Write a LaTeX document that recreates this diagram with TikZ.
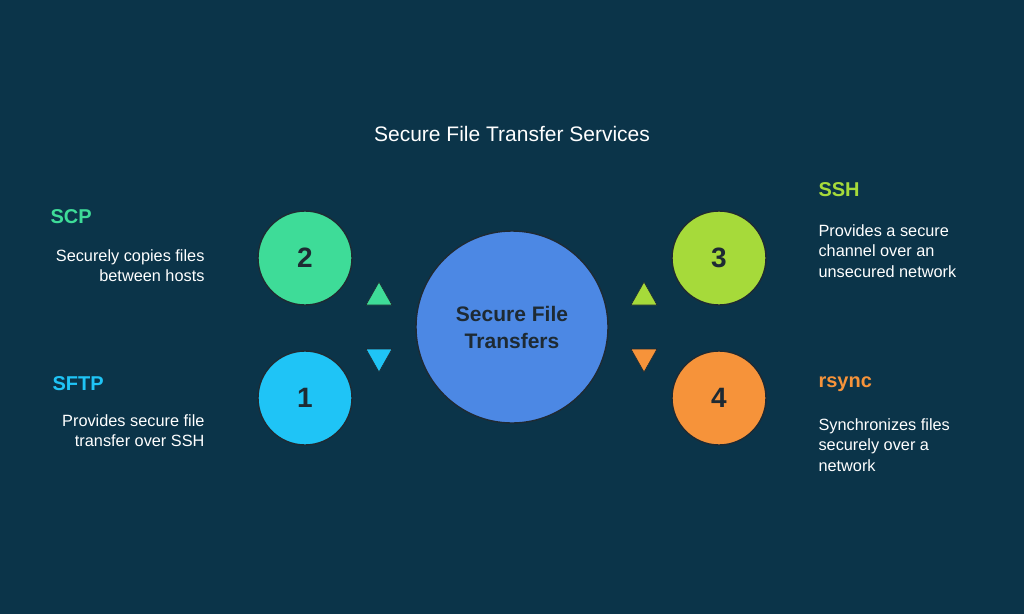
\documentclass[tikz,border=0pt]{standalone}
\usepackage{fontspec}
\setmainfont{Liberation Sans}
\definecolor{bg}{HTML}{0B3449}
\definecolor{cblue}{HTML}{4C88E4}
\definecolor{cgreen}{HTML}{3EDC98}
\definecolor{csky}{HTML}{1FC4F6}
\definecolor{clime}{HTML}{A6DA3A}
\definecolor{corange}{HTML}{F6933A}
\definecolor{ink}{HTML}{1E2A33}
\begin{document}
\begin{tikzpicture}[x=1pt,y=-1pt,
  circ/.style={circle,draw=ink,line width=1.4pt,inner sep=0pt},
  num/.style={font=\bfseries\fontsize{28}{28}\selectfont,text=ink},
  head/.style={font=\bfseries\fontsize{20}{20}\selectfont,anchor=west},
  body/.style={font=\fontsize{16.3}{20.5}\selectfont,text=white,align=left,anchor=north west},
  bodyr/.style={font=\fontsize{16.3}{20.5}\selectfont,text=white,align=right,anchor=north east},
  tri/.style={draw=ink,line width=0.6pt}]
\fill[bg] (0,0) rectangle (1024,614);
\useasboundingbox (0,0) rectangle (1024,614);
\node[font=\fontsize{21}{21}\selectfont,text=white] (title) at (512,134) {Secure File Transfer Services};
\node[circ,fill=cblue,minimum size=192pt,align=center,font=\bfseries\fontsize{21}{27}\selectfont,text=ink] (c) at (512,327) {Secure File\\Transfers};
\node[circ,fill=cgreen,minimum size=94pt,num] (n2) at (305,258) {2};
\node[circ,fill=csky,minimum size=94pt,num] (n1) at (305,398) {1};
\node[circ,fill=clime,minimum size=94pt,num] (n3) at (719,258) {3};
\node[circ,fill=corange,minimum size=94pt,num] (n4) at (719,398) {4};
\filldraw[tri,fill=cgreen] (366,305) -- (392,305) -- (379,282) -- cycle;
\filldraw[tri,fill=csky] (366,349) -- (392,349) -- (379,372) -- cycle;
\filldraw[tri,fill=clime] (631,305) -- (657,305) -- (644,282) -- cycle;
\filldraw[tri,fill=corange] (631,349) -- (657,349) -- (644,372) -- cycle;
\node[head,text=cgreen] (h2) at (47,217) {SCP};
\node[bodyr] (t2) at (208,246) {Securely copies files\\between hosts};
\node[head,text=csky] (h1) at (49,384) {SFTP};
\node[bodyr] (t1) at (208,411) {Provides secure file\\transfer over SSH};
\node[head,text=clime] (h3) at (815,190) {SSH};
\node[body] (t3) at (815,221) {Provides a secure\\channel over an\\unsecured network};
\node[head,text=corange] (h4) at (815,384) {rsync};
\node[body] (t4) at (815,415) {Synchronizes files\\securely over a\\network};
\end{tikzpicture}
\end{document}
